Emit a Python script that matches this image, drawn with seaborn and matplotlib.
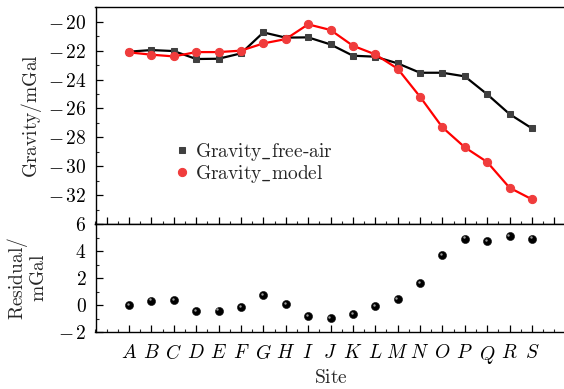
import numpy as np
import pandas as pd
import matplotlib
matplotlib.use("Agg")
import matplotlib.pyplot as plt
import matplotlib.transforms as mtransforms
import seaborn as sns
from matplotlib.ticker import MultipleLocator, FuncFormatter

sites = list("ABCDEFGHIJKLMNOPQRS")
free_air = [-22.07, -21.96, -22.03, -22.58, -22.56, -22.19, -20.74, -21.10, -21.08,
            -21.57, -22.35, -22.42, -22.88, -23.53, -23.53, -23.78, -25.02, -26.39, -27.38]
model = [-22.12, -22.28, -22.40, -22.10, -22.10, -22.00, -21.50, -21.20, -20.18,
         -20.57, -21.66, -22.26, -23.25, -25.19, -27.31, -28.69, -29.71, -31.49, -32.29]
residual = [0.00, 0.33, 0.37, -0.48, -0.42, -0.18, 0.75, 0.07, -0.85,
            -0.98, -0.65, -0.10, 0.42, 1.65, 3.72, 4.92, 4.72, 5.12, 4.92]

sns.set_theme(style="ticks")
plt.rcParams["mathtext.fontset"] = "cm"
plt.rcParams["font.family"] = ["cmr10", "DejaVu Serif"]
plt.rcParams["axes.formatter.use_mathtext"] = True
plt.rcParams["xtick.direction"] = "in"
plt.rcParams["ytick.direction"] = "in"

FS = 14

df = pd.DataFrame({"idx": np.arange(len(sites)), "site": sites,
                   "free_air": free_air, "model": model, "residual": residual})

W, H = 564, 389
fig = plt.figure(figsize=(W / 100, H / 100), dpi=100)
L = 95.5 / W
R = 565.5 / W
ax1 = fig.add_axes([L, 1 - 224 / H, R - L, (224 - 7.3) / H])
ax2 = fig.add_axes([L, 1 - 332 / H, R - L, (332 - 224) / H])

sns.lineplot(data=df, x="idx", y="free_air", ax=ax1, color="black", lw=1.6,
             marker="s", markersize=5.0, markerfacecolor="#404040",
             markeredgecolor="#404040", label=r"$\mathrm{Gravity\_free}$-$\mathrm{air}$")
sns.lineplot(data=df, x="idx", y="model", ax=ax1, color="red", lw=1.6,
             marker="o", markersize=5.9, markerfacecolor="#f03c3c",
             markeredgecolor="#f03c3c", label=r"$\mathrm{Gravity\_model}$")

sns.scatterplot(data=df, x="idx", y="residual", ax=ax2, color="black", s=34,
                edgecolor="#101010", linewidth=0.4, zorder=3)
hl = mtransforms.offset_copy(ax2.transData, fig=fig, x=-1.2, y=1.2, units="dots")
sns.scatterplot(data=df, x="idx", y="residual", ax=ax2, color="#9a9a9a", s=3,
                linewidth=0, zorder=4, transform=hl)

def mfmt(v, pos):
    return r"$%d$" % int(round(v)) if v >= 0 else r"$-\,%d$" % int(round(-v))

for ax in (ax1, ax2):
    ax.set_xlim(-1.5, 19.5)
    ax.xaxis.set_major_locator(MultipleLocator(1))
    ax.xaxis.set_minor_locator(MultipleLocator(0.5))
    ax.tick_params(which="major", length=5, width=0.9, labelsize=FS)
    ax.tick_params(which="minor", length=2.5, width=0.8)
    ax.tick_params(axis="y", pad=6.5)
    ax.tick_params(axis="x", pad=8.5)
    ax.yaxis.set_major_formatter(FuncFormatter(mfmt))
    for s in ax.spines.values():
        s.set_linewidth(1.0)
        s.set_color("black")
    ax.tick_params(top=False, right=False, colors="black")

ax1.set_ylim(-34, -19)
ax1.yaxis.set_major_locator(MultipleLocator(2))
ax1.yaxis.set_minor_locator(MultipleLocator(1))
ax1.set_yticks([-32, -30, -28, -26, -24, -22, -20])
ax1.tick_params(axis="x", labelbottom=False)
ax1.set_xlabel("")
ax1.set_ylabel(r"$\mathrm{Gravity/mGal}$", fontsize=FS)
ax1.yaxis.label.set_verticalalignment("center")
ax1.yaxis.set_label_coords((32 - 95.5) / 470, 0.5)

ax2.set_ylim(-2, 6)
ax2.yaxis.set_major_locator(MultipleLocator(2))
ax2.yaxis.set_minor_locator(MultipleLocator(1))
ax2.set_xticks(df["idx"])
ax2.set_xticklabels([r"$%s$" % s for s in sites])
ax2.set_xlabel(r"$\mathrm{Site}$", fontsize=FS, labelpad=2)
ax2.set_ylabel("$\\mathrm{Residual/}$\n$\\mathrm{mGal}$", fontsize=FS,
               linespacing=1.0)
ax2.yaxis.label.set_verticalalignment("center")
ax2.yaxis.set_label_coords((26.5 - 95.5) / 470, 0.5)

leg = ax1.legend(loc="upper left", bbox_to_anchor=(0.155, 0.42), frameon=False,
                 fontsize=FS, handlelength=0.6, handletextpad=0.35,
                 labelspacing=0.0, borderaxespad=0)
for h in leg.legend_handles:
    h.set_linestyle("none")

fig.savefig("out.png", dpi=100)
